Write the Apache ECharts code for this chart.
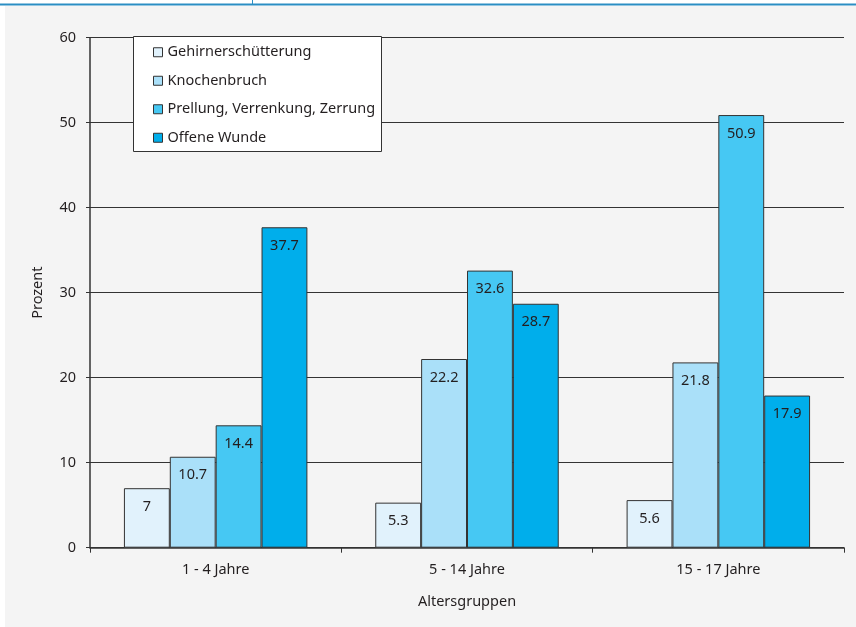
<!DOCTYPE html>
<html>
<head>
<meta charset="utf-8">
<style>
  html, body { margin: 0; padding: 0; background: #ffffff; }
  #chart { width: 856px; height: 627px; }
</style>
<script src="https://cdn.jsdelivr.net/npm/echarts@6/dist/echarts.min.js"></script>
</head>
<body>
<div id="chart"></div>
<script>
// Verletzungsarten nach Altersgruppen (Prozent)
const categories = ['1 - 4 Jahre', '5 - 14 Jahre', '15 - 17 Jahre'];
const seriesNames = ['Gehirnerschütterung', 'Knochenbruch', 'Prellung, Verrenkung, Zerrung', 'Offene Wunde'];
const gehirnerschuetterung = [7, 5.3, 5.6];
const knochenbruch = [10.7, 22.2, 21.8];
const prellung = [14.4, 32.6, 50.9];
const offeneWunde = [37.7, 28.7, 17.9];
const yTicks = [0, 10, 20, 30, 40, 50, 60];

const seriesValues = [gehirnerschuetterung, knochenbruch, prellung, offeneWunde];
const colors = ['#e1f2fc', '#aae0f9', '#46c8f3', '#00aeeb'];
const fontFamily = '"Noto Sans", sans-serif';
const textColor = '#231f20';
const fontSize = 14.5;

const chart = echarts.init(document.getElementById('chart'), null, { renderer: 'canvas' });

chart.setOption({
  animation: false,
  color: colors,
  textStyle: { fontFamily: fontFamily },
  graphic: [
    { type: 'rect', z: -10, shape: { x: 5, y: 6, width: 851, height: 621 }, style: { fill: '#f4f4f4' } },
    { type: 'line', z: -9, shape: { x1: 0, y1: 4.5, x2: 856, y2: 4.5 }, style: { stroke: '#2b8ec3', lineWidth: 2 } },
    { type: 'line', z: -9, shape: { x1: 252.5, y1: 0, x2: 252.5, y2: 4 }, style: { stroke: '#2b8ec3', lineWidth: 1 } },
    { type: 'rect', z: 3, shape: { x: 133.5, y: 36.5, width: 248, height: 115 }, style: { fill: '#ffffff', stroke: '#333333', lineWidth: 1 } }
  ],
  legend: {
    orient: 'vertical',
    left: 148,
    top: 38,
    z: 5,
    itemWidth: 9,
    itemHeight: 9,
    itemGap: 10,
    icon: 'rect',
    itemStyle: { borderColor: '#333', borderWidth: 1 },
    textStyle: { fontSize: fontSize, color: textColor, fontFamily: fontFamily, lineHeight: 18.5 },
    data: seriesNames
  },
  grid: { left: 90, right: 12, top: 37.7, bottom: 79.3, containLabel: false },
  xAxis: {
    type: 'category',
    data: categories,
    name: 'Altersgruppen',
    nameLocation: 'middle',
    nameGap: 47,
    nameTextStyle: { fontSize: fontSize, color: textColor },
    axisLine: { lineStyle: { color: '#333', width: 1.5 } },
    axisTick: { show: true, length: 5, lineStyle: { color: '#333' } },
    axisLabel: { fontSize: fontSize, color: textColor, margin: 15 }
  },
  yAxis: {
    type: 'value',
    min: yTicks[0],
    max: yTicks[yTicks.length - 1],
    interval: 10,
    name: 'Prozent',
    nameLocation: 'middle',
    nameGap: 45,
    nameTextStyle: { fontSize: fontSize, color: textColor },
    axisLine: { show: true, lineStyle: { color: '#333', width: 1.5 } },
    axisTick: { show: true, length: 4, lineStyle: { color: '#333' } },
    axisLabel: { fontSize: fontSize, color: textColor, margin: 14 },
    splitLine: { lineStyle: { color: '#333', width: 1 } }
  },
  series: seriesNames.map((name, i) => ({
    name: name,
    type: 'bar',
    data: seriesValues[i],
    barGap: '0%',
    barCategoryGap: '27%',
    itemStyle: { color: colors[i], borderColor: '#333', borderWidth: 1 },
    label: {
      show: true,
      position: 'insideTop',
      distance: 11,
      fontSize: fontSize,
      color: textColor,
      fontFamily: fontFamily
    }
  }))
});
</script>
</body>
</html>
